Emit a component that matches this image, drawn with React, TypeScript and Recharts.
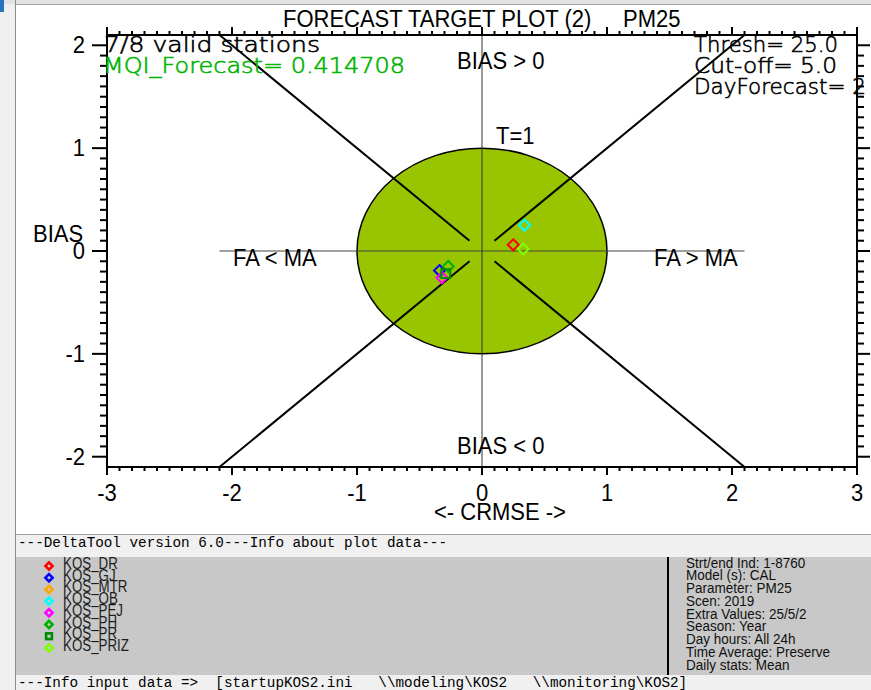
import React from "react"
import { ScatterChart, Scatter, XAxis, YAxis, ReferenceLine, ReferenceArea } from "recharts"

// stations and their target-plot coordinates (MTR has no valid data)
const stations = ["KOS_DR", "KOS_GJ", "KOS_MTR", "KOS_OB", "KOS_PEJ", "KOS_PH", "KOS_PR", "KOS_PRIZ"]
const crmse = [0.25, -0.34, null, 0.34, -0.32, -0.27, -0.29, 0.33]
const bias = [0.06, -0.19, null, 0.25, -0.26, -0.15, -0.22, 0.02]
const stationColors = ["#ff0000", "#0000ff", "#ffa500", "#00ffff", "#ff00ff", "#00b000", "#008c00", "#80ff00"]
const stationShapes = ["diamond", "diamond", "diamond", "diamond", "diamond", "diamond", "square", "diamond"]

const xMajorTicks = [-3, -2, -1, 0, 1, 2, 3]
const yMajorTicks = [-2, -1, 0, 1, 2]
const xMinorTicks = Array.from({ length: 61 }, (_, i) => Math.round((-3 + i * 0.1) * 10) / 10)
const yMinorTicks = Array.from({ length: 41 }, (_, i) => Math.round((-2 + i * 0.1) * 10) / 10)

const infoLines = [
  "Strt/end Ind: 1-8760",
  "Model (s): CAL",
  "Parameter: PM25",
  "Scen: 2019",
  "Extra Values: 25/5/2",
  "Season: Year",
  "Day hours: All 24h",
  "Time Average: Preserve",
  "Daily stats: Mean",
]

const SANS = "'Liberation Sans', Arial, sans-serif"
const MONO = "'Liberation Mono', 'Courier New', monospace"
const VEC = "'DejaVu Sans', sans-serif"

const isMajor = (v: number) => xMajorTicks.includes(v) || yMajorTicks.includes(v)

// Arial-like label, a little taller than wide as in the original output
function Lbl({ x, y, anchor = "start", size = 22, sx = 1, sy = 1.1, fill = "#000", children }: any) {
  return (
    <text
      transform={`translate(${x} ${y}) scale(${sx} ${sy})`}
      textAnchor={anchor}
      fontFamily={SANS}
      fontSize={size}
      fill={fill}
    >
      {children}
    </text>
  )
}

function BottomTick({ x, y, payload }: any) {
  const major = isMajor(payload.value)
  return (
    <g>
      <line x1={x} x2={x} y1={y} y2={y + (major ? 8 : 4)} stroke="#000" strokeWidth={2} />
      {major && (
        <Lbl x={x} y={y + 34} anchor="middle">
          {payload.value}
        </Lbl>
      )}
    </g>
  )
}

function TopTick({ x, y, payload }: any) {
  const major = isMajor(payload.value)
  return <line x1={x} x2={x} y1={y} y2={y - (major ? 8 : 4)} stroke="#000" strokeWidth={2} />
}

function LeftTick({ x, y, payload }: any) {
  const major = isMajor(payload.value)
  return (
    <g>
      <line x1={x} x2={x - (major ? 15 : 7)} y1={y} y2={y} stroke="#000" strokeWidth={2} />
      {major && (
        <Lbl x={x - 22} y={y + 8} anchor="end">
          {payload.value}
        </Lbl>
      )}
    </g>
  )
}

function RightTick({ x, y, payload }: any) {
  const major = isMajor(payload.value)
  return <line x1={x} x2={x + (major ? 13 : 7)} y1={y} y2={y} stroke="#000" strokeWidth={2} />
}

function Marker({ cx, cy, color, kind, r, sw = 2 }: any) {
  if (kind === "square") {
    const h = r * 0.8
    return <rect x={cx - h} y={cy - h} width={h * 2} height={h * 2} fill="none" stroke={color} strokeWidth={sw} />
  }
  return (
    <path
      d={`M${cx},${cy - r}L${cx + r},${cy}L${cx},${cy + r}L${cx - r},${cy}Z`}
      fill="none"
      stroke={color}
      strokeWidth={sw}
    />
  )
}

const box = (left: number, top: number, width: number, height: number, bg: string): React.CSSProperties => ({
  position: "absolute",
  left,
  top,
  width,
  height,
  background: bg,
})

export default function App() {
  return (
    <div style={{ position: "absolute", left: 0, top: 0, width: 871, height: 690, background: "#f0f0f0", overflow: "hidden" }}>
      {/* window chrome */}
      <div style={box(0, 0, 871, 4, "#e2e2e2")} />
      <div style={box(16, 4, 855, 1, "#a0a0a0")} />
      <div style={box(0, 0, 4, 12, "#2a72c0")} />
      <div style={box(15, 0, 1, 690, "#8c8c8c")} />
      <div style={box(16, 5, 855, 529, "#ffffff")} />
      <div style={box(16, 534, 855, 1, "#a0a0a0")} />
      <div style={box(16, 557, 855, 118, "#c8c8c8")} />
      <div style={box(667, 557, 2, 118, "#000")} />

      <div style={{ position: "absolute", left: 18, top: 8 }}>
        <ScatterChart width={853} height={527} margin={{ top: 0, right: 0, bottom: 0, left: 0 }}>
          <XAxis
            xAxisId="b"
            dataKey="x"
            type="number"
            domain={[-3, 3]}
            allowDataOverflow
            ticks={xMinorTicks}
            interval={0}
            tick={<BottomTick />}
            tickLine={false}
            tickSize={0}
            tickMargin={0}
            axisLine={{ stroke: "#000", strokeWidth: 2 }}
            height={68}
          />
          <XAxis
            xAxisId="t"
            orientation="top"
            dataKey="x"
            type="number"
            domain={[-3, 3]}
            allowDataOverflow
            ticks={xMinorTicks}
            interval={0}
            tick={<TopTick />}
            tickLine={false}
            tickSize={0}
            tickMargin={0}
            axisLine={{ stroke: "#000", strokeWidth: 2 }}
            height={27}
          />
          <YAxis
            yAxisId="l"
            dataKey="y"
            type="number"
            domain={[-2.1, 2.1]}
            allowDataOverflow
            ticks={yMinorTicks}
            interval={0}
            tick={<LeftTick />}
            tickLine={false}
            tickSize={0}
            tickMargin={0}
            axisLine={{ stroke: "#000", strokeWidth: 2 }}
            width={89}
          />
          <YAxis
            yAxisId="r"
            orientation="right"
            dataKey="y"
            type="number"
            domain={[-2.1, 2.1]}
            allowDataOverflow
            ticks={yMinorTicks}
            interval={0}
            tick={<RightTick />}
            tickLine={false}
            tickSize={0}
            tickMargin={0}
            axisLine={{ stroke: "#000", strokeWidth: 2 }}
            width={14}
          />

          {/* target circle T=1 */}
          <ReferenceArea
            xAxisId="b"
            yAxisId="l"
            x1={-1}
            x2={1}
            y1={-1}
            y2={1}
            ifOverflow="visible"
            shape={(p: any) => (
              <ellipse
                cx={p.x + p.width / 2}
                cy={p.y + p.height / 2}
                rx={Math.abs(p.width) / 2}
                ry={Math.abs(p.height) / 2}
                fill="#99c400"
                stroke="#000"
                strokeWidth={1.5}
              />
            )}
          />

          <ReferenceLine xAxisId="b" yAxisId="l" x={0} stroke="#333" strokeWidth={1} ifOverflow="visible" />
          <ReferenceLine
            xAxisId="b"
            yAxisId="l"
            segment={[{ x: -2.1, y: 0 }, { x: 2.1, y: 0 }]}
            stroke="#444"
            strokeWidth={1.2}
            ifOverflow="visible"
          />
          {[
            [-1, 1],
            [1, 1],
            [-1, -1],
            [1, -1],
          ].map(([sx, sy], i) => (
            <ReferenceLine
              key={i}
              xAxisId="b"
              yAxisId="l"
              segment={[
                { x: sx * 0.1, y: sy * 0.1 },
                { x: sx * 2.1, y: sy * 2.1 },
              ]}
              stroke="#000"
              strokeWidth={2}
              ifOverflow="visible"
            />
          ))}

          {stations.map((name, i) =>
            crmse[i] == null ? null : (
              <Scatter
                key={name}
                name={name}
                xAxisId="b"
                yAxisId="l"
                data={[{ x: crmse[i], y: bias[i] }]}
                isAnimationActive={false}
                shape={(p: any) => <Marker cx={p.cx} cy={p.cy} color={stationColors[i]} kind={stationShapes[i]} r={5.5} />}
              />
            )
          )}
        </ScatterChart>
      </div>

      <svg width={871} height={690} style={{ position: "absolute", left: 0, top: 0, pointerEvents: "none" }}>
        <Lbl x={283} y={27}>FORECAST TARGET PLOT (2)</Lbl>
        <Lbl x={623} y={27}>PM25</Lbl>
        <Lbl x={457} y={69}>BIAS &gt; 0</Lbl>
        <Lbl x={457} y={454}>BIAS &lt; 0</Lbl>
        <Lbl x={233} y={266}>FA &lt; MA</Lbl>
        <Lbl x={654} y={266}>FA &gt; MA</Lbl>
        <Lbl x={496} y={144}>T=1</Lbl>
        <Lbl x={33} y={242}>BIAS</Lbl>
        <Lbl x={500} y={520} anchor="middle">&lt;- CRMSE -&gt;</Lbl>

        <g fontFamily={VEC} fontSize={22} fontWeight={200} fill="#000" stroke="#000" strokeWidth={0.6}>
          <text x={104} y={52} textLength={216} lengthAdjust="spacingAndGlyphs">7/8 valid stations</text>
          <text x={103} y={73} textLength={302} lengthAdjust="spacingAndGlyphs" fill="#00b400" stroke="#00b400">
            MQI_Forecast= 0.414708
          </text>
          <text x={694} y={52} textLength={144} lengthAdjust="spacingAndGlyphs">Thresh= 25.0</text>
          <text x={694} y={73} textLength={143} lengthAdjust="spacingAndGlyphs">Cut-off= 5.0</text>
          <text x={694} y={94} textLength={172} lengthAdjust="spacingAndGlyphs">DayForecast= 2</text>
        </g>

        <g fontFamily={MONO} fontSize={14.3} fill="#000">
          <text x={18} y={547}>---DeltaTool version 6.0---Info about plot data---</text>
          <text x={18} y={687} xmlSpace="preserve" style={{ whiteSpace: "pre" }}>
            {"---Info input data =>  [startupKOS2.ini   \\\\modeling\\KOS2   \\\\monitoring\\KOS2]"}
          </text>
        </g>

        {stations.map((name, i) => {
          const base = 569 + i * 11.7
          return (
            <g key={name}>
              <Marker cx={49} cy={base - 3} color={stationColors[i]} kind={stationShapes[i]} r={3.6} sw={2.6} />
              <Lbl x={63} y={base} size={14.5} sx={0.92} sy={1.08} fill="#1c1c1c">
                {name}
              </Lbl>
            </g>
          )
        })}

        {infoLines.map((line, i) => (
          <Lbl key={line} x={686} y={567.5 + i * 12.75} size={13.5} sx={1} sy={1.08} fill="#111">
            {line}
          </Lbl>
        ))}
      </svg>
    </div>
  )
}
